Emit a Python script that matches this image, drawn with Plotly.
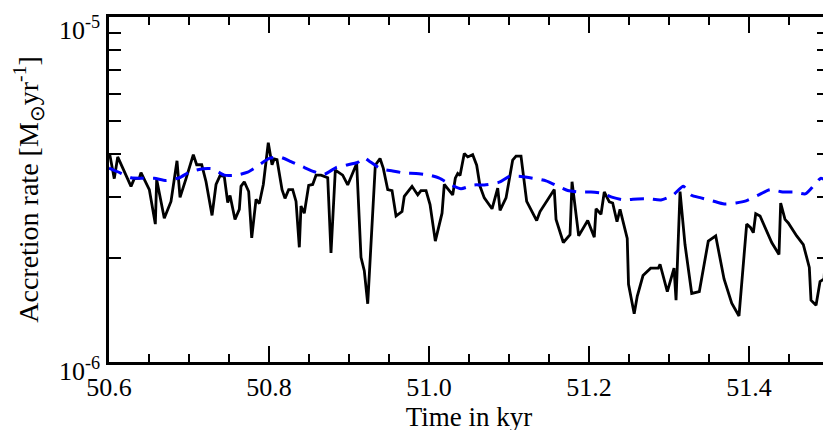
import math
import plotly.graph_objects as go

# Accretion rate in units of 1e-6 Msun/yr
UNIT = 1e-6

t_black = [50.601, 50.6066, 50.6109, 50.6275, 50.6316, 50.6379, 50.640, 50.6504, 50.6579, 50.6596,
           50.6691, 50.6775, 50.685, 50.6888, 50.6963, 50.7054, 50.7096, 50.7159, 50.7213, 50.7288,
           50.7338, 50.7388, 50.7441, 50.7484, 50.7513, 50.7575, 50.7629, 50.765, 50.7691, 50.7746,
           50.7784, 50.7838, 50.7879, 50.7929, 50.7991, 50.8038, 50.8066, 50.81, 50.8163, 50.82,
           50.8246, 50.8296, 50.8338, 50.8379, 50.84, 50.8441, 50.8496, 50.8546, 50.8588, 50.865,
           50.8734, 50.8775, 50.8829, 50.8921, 50.8984, 50.9096, 50.915, 50.9191, 50.9234, 50.9288,
           50.9329, 50.9388, 50.9429, 50.9484, 50.9538, 50.9588, 50.9663, 50.9691, 50.9788, 50.9859,
           50.99, 50.9963, 51.0013, 51.0079, 51.0163, 51.0191, 51.0296, 51.0329, 51.0359, 51.0388,
           51.0441, 51.0484, 51.0546, 51.0596, 51.0638, 51.0691, 51.0788, 51.0859, 51.0888, 51.0963,
           51.1046, 51.1088, 51.115, 51.1221, 51.1346, 51.1388, 51.1471, 51.1566, 51.1588, 51.1679,
           51.1763, 51.1788, 51.1871, 51.1984, 51.2066, 51.2088, 51.215, 51.2191, 51.2254, 51.2296,
           51.235, 51.2388, 51.2478, 51.2494, 51.2565, 51.2603, 51.2675, 51.2771, 51.2866, 51.2888,
           51.2979, 51.3063, 51.3088, 51.3138, 51.32, 51.3284, 51.3379, 51.3491, 51.3584, 51.3688,
           51.3784, 51.3875, 51.3971, 51.4021, 51.4054, 51.4084, 51.4138, 51.4284, 51.4375, 51.4396,
           51.445, 51.4491, 51.4596, 51.4679, 51.4754, 51.4775, 51.4838, 51.4888, 51.4938, 51.4979,
           51.5]
acc_black = [3.99, 3.40, 3.93, 3.23, 3.40, 3.41, 3.54, 3.16, 2.51, 3.38,
             2.61, 2.92, 3.83, 3.00, 3.40, 3.99, 3.73, 3.73, 3.33, 2.66,
             3.27, 3.47, 3.45, 2.90, 3.04, 2.59, 2.77, 3.23, 3.33, 3.12,
             2.29, 2.96, 2.88, 3.27, 4.32, 3.73, 3.88, 3.86, 3.16, 2.98,
             3.16, 3.16, 2.92, 2.15, 2.83, 2.70, 3.25, 3.27, 3.48, 3.48,
             3.42, 2.07, 3.60, 3.48, 3.26, 3.76, 2.01, 1.84, 1.475, 2.62,
             3.72, 3.89, 3.64, 3.16, 3.14, 2.65, 2.73, 3.02, 3.23, 3.05,
             3.14, 3.14, 2.86, 2.24, 2.70, 3.27, 3.05, 3.41, 3.52, 3.47,
             4.02, 3.93, 3.99, 3.72, 3.23, 2.99, 2.78, 3.19, 2.75, 2.99,
             3.85, 3.95, 3.95, 2.92, 2.57, 2.73, 2.92, 3.16, 2.59, 2.22,
             2.34, 3.33, 2.32, 2.57, 2.30, 2.78, 2.68, 3.11, 2.91, 2.89,
             2.55, 2.77, 2.28, 1.68, 1.38, 1.55, 1.78, 1.87, 1.87, 1.92,
             1.60, 1.87, 1.51, 3.12, 2.19, 1.58, 1.60, 2.24, 2.32, 1.74,
             1.48, 1.36, 2.51, 2.45, 2.37, 2.69, 2.65, 2.22, 2.05, 2.89,
             2.59, 2.53, 2.32, 2.19, 1.88, 1.51, 1.46, 1.71, 1.74, 2.56,
             2.66]

t_blue = [50.6, 50.6109, 50.6275, 50.6421, 50.6566, 50.6713, 50.6879, 50.7004, 50.7171, 50.7296,
          50.7441, 50.7588, 50.7734, 50.7859, 50.8004, 50.8129, 50.8275, 50.8421, 50.8566, 50.8691,
          50.8838, 50.8963, 50.9109, 50.9191, 50.9254, 50.94, 50.9546, 50.9691, 50.9838, 51.0004,
          51.0129, 51.0275, 51.04, 51.0566, 51.0691, 51.0879, 51.1004, 51.115, 51.1296, 51.1463,
          51.1588, 51.1734, 51.1879, 51.2025, 51.2171, 51.2296, 51.2441, 51.2609, 51.2754, 51.29,
          51.3046, 51.3179, 51.3275, 51.34, 51.3546, 51.3691, 51.3838, 51.3963, 51.4109, 51.4263,
          51.4421, 51.4566, 51.4704, 51.4816, 51.49, 51.5]
acc_blue = [3.65, 3.56, 3.42, 3.41, 3.41, 3.36, 3.42, 3.55, 3.63, 3.63,
            3.48, 3.48, 3.55, 3.70, 3.89, 3.93, 3.81, 3.68, 3.56, 3.50,
            3.66, 3.72, 3.79, 3.91, 3.82, 3.63, 3.58, 3.53, 3.52, 3.48,
            3.41, 3.26, 3.18, 3.26, 3.26, 3.32, 3.45, 3.45, 3.41, 3.35,
            3.25, 3.14, 3.11, 3.11, 3.08, 3.00, 2.95, 2.97, 2.97, 2.95,
            3.04, 3.23, 3.05, 2.99, 2.93, 2.87, 2.89, 2.93, 3.04, 3.16,
            3.11, 3.11, 3.07, 3.26, 3.41, 3.31]

x_tickvals = [50.6, 50.8, 51.0, 51.2, 51.4]
x_ticktext = ["50.6", "50.8", "51.0", "51.2", "51.4"]
x_minor = [50.65, 50.7, 50.75, 50.85, 50.9, 50.95, 51.05, 51.1, 51.15, 51.25, 51.3, 51.35, 51.45]
y_tickvals = [1e-6, 1e-5]
y_ticktext = ["10<sup>-6</sup>", "10<sup>-5</sup>"]
y_minor = [k * 1e-6 for k in range(2, 10)]

FONT = "Liberation Serif, Times New Roman, serif"

fig = go.Figure()
fig.add_trace(go.Scatter(x=t_black, y=[v * UNIT for v in acc_black], mode="lines",
                         line=dict(color="black", width=2.8), showlegend=False))
fig.add_trace(go.Scatter(x=t_blue, y=[v * UNIT for v in acc_blue], mode="lines",
                         line=dict(color="#0000ff", width=3, dash="14px,9px", shape="spline",
                                   smoothing=0.6),
                         showlegend=False))

# y tick labels drawn as annotations anchored on the (log) y axis values
label_anchor = ["middle", "top"]
label_shift = [-7, 7]
for val, txt, anc, sh in zip(y_tickvals, y_ticktext, label_anchor, label_shift):
    fig.add_annotation(x=0, xref="paper", y=math.log10(val), yref="y", text=txt,
                       showarrow=False, xanchor="right", yanchor=anc,
                       xshift=-7, yshift=sh,
                       font=dict(size=26, family=FONT, color="black"))

fig.update_layout(
    width=831, height=430,
    margin=dict(l=101, r=10, t=6, b=76),
    paper_bgcolor="white", plot_bgcolor="white",
    font=dict(family=FONT, size=26, color="black"),
    xaxis=dict(
        range=[50.6, 51.5], showgrid=False, zeroline=False,
        showline=True, linecolor="black", linewidth=2.8, mirror="allticks",
        ticks="inside", ticklen=16, tickwidth=2.4, tickcolor="black",
        tickvals=x_tickvals, ticktext=x_ticktext,
        minor=dict(tickvals=x_minor, ticks="inside", ticklen=8, tickwidth=2.4, tickcolor="black"),
        tickfont=dict(size=26, family=FONT),
        title=dict(text="Time in kyr", font=dict(size=27, family=FONT), standoff=0),
    ),
    yaxis=dict(
        type="log", range=[-6, -5], showgrid=False, zeroline=False,
        showline=True, linecolor="black", linewidth=2.8, mirror="allticks",
        ticks="inside", ticklen=16, tickwidth=2.4, tickcolor="black",
        tickvals=y_tickvals, showticklabels=False,
        minor=dict(tickvals=y_minor, ticks="inside", ticklen=12, tickwidth=2.4, tickcolor="black"),
        title=dict(text="Accretion rate [M<sub>⊙</sub>yr<sup>-1</sup>]",
                   font=dict(size=28, family=FONT), standoff=60),
    ),
)

fig.write_html("out.html")
